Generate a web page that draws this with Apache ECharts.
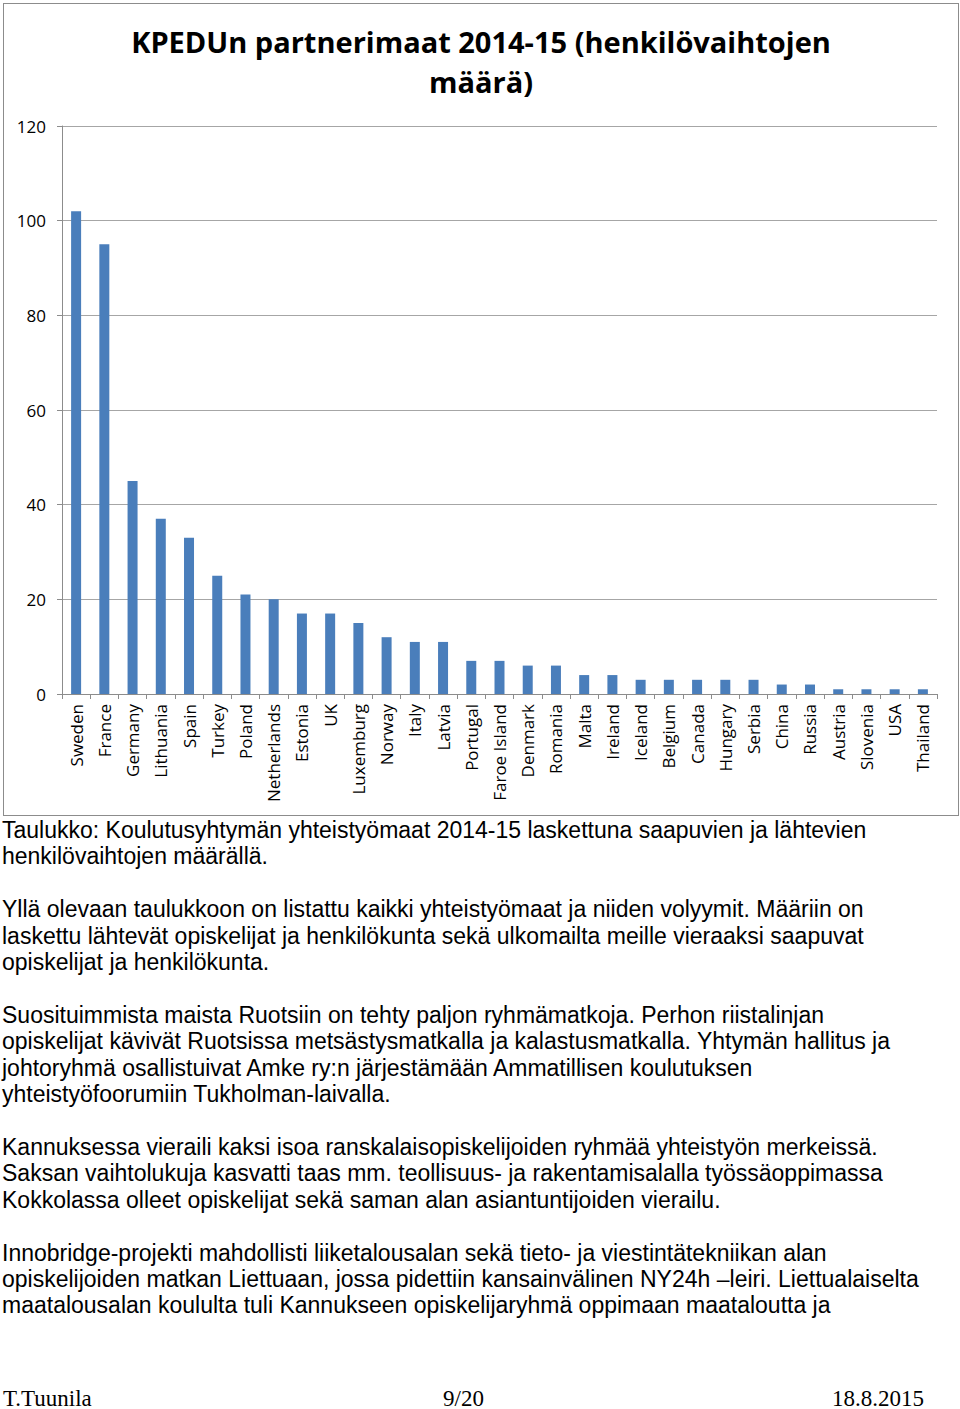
<!DOCTYPE html>
<html>
<head>
<meta charset="utf-8">
<script src="https://cdn.jsdelivr.net/npm/echarts@6/dist/echarts.min.js"></script>
<style>
  html, body { margin: 0; padding: 0; background: #fff; }
  body { width: 960px; height: 1409px; position: relative; overflow: hidden; }
  #box { position: absolute; left: 3px; top: 3px; width: 956px; height: 813px; box-sizing: border-box; border: 1px solid #8c8c8c; }
  #chart { position: absolute; left: 0; top: 0; width: 954px; height: 811px; }
  #text { position: absolute; left: 2px; top: 817px; width: 958px; font-family: "Liberation Sans", Arial, sans-serif; font-size: 23px; line-height: 26.4px; color: #000; white-space: pre; }
  .foot { position: absolute; top: 1385px; font-family: "Liberation Serif", "Times New Roman", serif; font-size: 23px; color: #000; line-height: 28px; }
</style>
</head>
<body>
<div id="box"><div id="chart"></div></div>
<div id="text">Taulukko: Koulutusyhtymän yhteistyömaat 2014-15 laskettuna saapuvien ja lähtevien
henkilövaihtojen määrällä.

Yllä olevaan taulukkoon on listattu kaikki yhteistyömaat ja niiden volyymit. Määriin on
laskettu lähtevät opiskelijat ja henkilökunta sekä ulkomailta meille vieraaksi saapuvat
opiskelijat ja henkilökunta.

Suosituimmista maista Ruotsiin on tehty paljon ryhmämatkoja. Perhon riistalinjan
opiskelijat kävivät Ruotsissa metsästysmatkalla ja kalastusmatkalla. Yhtymän hallitus ja
johtoryhmä osallistuivat Amke ry:n järjestämään Ammatillisen koulutuksen
yhteistyöfoorumiin Tukholman-laivalla.

Kannuksessa vieraili kaksi isoa ranskalaisopiskelijoiden ryhmää yhteistyön merkeissä.
Saksan vaihtolukuja kasvatti taas mm. teollisuus- ja rakentamisalalla työssäoppimassa
Kokkolassa olleet opiskelijat sekä saman alan asiantuntijoiden vierailu.

Innobridge-projekti mahdollisti liiketalousalan sekä tieto- ja viestintätekniikan alan
opiskelijoiden matkan Liettuaan, jossa pidettiin kansainvälinen NY24h –leiri. Liettualaiselta
maatalousalan koululta tuli Kannukseen opiskelijaryhmä oppimaan maataloutta ja</div>
<div class="foot" style="left:3px;">T.Tuunila</div>
<div class="foot" style="left:443px;">9/20</div>
<div class="foot" style="left:832px;">18.8.2015</div>
<script>
const title = 'KPEDUn partnerimaat 2014-15 (henkilövaihtojen\nmäärä)';
const countries = ['Sweden','France','Germany','Lithuania','Spain','Turkey','Poland','Netherlands','Estonia','UK','Luxemburg','Norway','Italy','Latvia','Portugal','Faroe Island','Denmark','Romania','Malta','Ireland','Iceland','Belgium','Canada','Hungary','Serbia','China','Russia','Austria','Slovenia','USA','Thailand'];
const exchanges = [102,95,45,37,33,25,21,20,17,17,15,12,11,11,7,7,6,6,4,4,3,3,3,3,3,2,2,1,1,1,1];
const yTicks = [0,20,40,60,80,100,120];

const chart = echarts.init(document.getElementById('chart'), null, {renderer: 'svg'});
chart.setOption({
  animation: false,
  title: {
    text: title, left: 'center', top: 12,
    textStyle: { fontFamily: 'Open Sans', fontWeight: 'bold', fontSize: 29, lineHeight: 40, color: '#000' }
  },
  grid: { left: 58, right: 21, top: 122, bottom: 121, containLabel: false },
  xAxis: {
    type: 'category', data: countries, boundaryGap: true,
    axisLine: { lineStyle: { color: '#8c8c8c', width: 1 } },
    axisTick: { show: true, alignWithLabel: false, length: 5, lineStyle: { color: '#8c8c8c' } },
    axisLabel: { rotate: 90, interval: 0, fontFamily: 'Open Sans', fontSize: 17, color: '#000', margin: 10 }
  },
  yAxis: {
    type: 'value', min: yTicks[0], max: yTicks[yTicks.length - 1], interval: 20,
    axisLine: { show: true, lineStyle: { color: '#8c8c8c' } },
    axisTick: { show: true, length: 5, lineStyle: { color: '#8c8c8c' } },
    axisLabel: { fontFamily: 'Open Sans', fontSize: 17, color: '#000', margin: 16 },
    splitLine: { lineStyle: { color: '#a6a6a6', width: 1 } }
  },
  series: [{
    type: 'bar', data: exchanges, barWidth: 10,
    itemStyle: { color: '#4a7ebb' }
  }]
});
</script>
</body>
</html>
